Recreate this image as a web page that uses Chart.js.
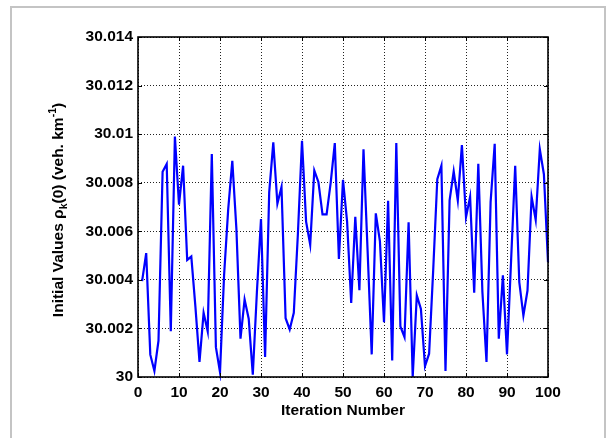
<!DOCTYPE html>
<html><head><meta charset="utf-8">
<script src="https://cdn.jsdelivr.net/npm/chart.js@4/dist/chart.umd.min.js"></script>
<style>
html,body{margin:0;padding:0;background:#fff;}
#wrap{position:relative;width:609px;height:438px;overflow:hidden;background:#fff;}
#frame{position:absolute;left:10px;top:6px;width:596px;height:460px;border:2px solid #c4c4c4;box-sizing:border-box;}
canvas{position:absolute;left:0;top:0;}
</style></head><body>
<div id="wrap"><div id="frame"></div><canvas id="c" width="609" height="438"></canvas></div>
<script>
const iterations = [1,2,3,4,5,6,7,8,9,10,11,12,13,14,15,16,17,18,19,20,21,22,23,24,25,26,27,28,29,30,31,32,33,34,35,36,37,38,39,40,41,42,43,44,45,46,47,48,49,50,51,52,53,54,55,56,57,58,59,60,61,62,63,64,65,66,67,68,69,70,71,72,73,74,75,76,77,78,79,80,81,82,83,84,85,86,87,88,89,90,91,92,93,94,95,96,97,98,99,100];
const initialValues = [
30.00395,30.00510,30.00092,30.00025,30.00150,30.00845,30.00877,30.00188,30.00990,30.00710,
30.00870,30.00482,30.00496,30.00290,30.00062,30.00264,30.00188,30.00918,30.00123,30.00020,
30.00420,30.00690,30.00890,30.00610,30.00158,30.00319,30.00240,30.00010,30.00350,30.00650,
30.00082,30.00760,30.00966,30.00714,30.00782,30.00242,30.00196,30.00264,30.00590,30.00973,
30.00640,30.00545,30.00850,30.00803,30.00670,30.00670,30.00800,30.00963,30.00486,30.00812,
30.00640,30.00305,30.00660,30.00357,30.00938,30.00520,30.00093,30.00674,30.00560,30.00226,
30.00726,30.00068,30.00963,30.00208,30.00164,30.00637,30.00000,30.00336,30.00280,30.00045,
30.00096,30.00440,30.00815,30.00870,30.00025,30.00727,30.00847,30.00727,30.00955,30.00658,
30.00742,30.00347,30.00878,30.00350,30.00062,30.00720,30.00960,30.00158,30.00419,30.00093,
30.00480,30.00870,30.00390,30.00253,30.00356,30.00742,30.00647,30.00938,30.00835,30.00473
];
const xTickValues = [0,10,20,30,40,50,60,70,80,90,100];
const xTickLabels = ['0','10','20','30','40','50','60','70','80','90','100'];
const yTickValues = [30,30.002,30.004,30.006,30.008,30.01,30.012,30.014];
const yTickLabels = ['30','30.002','30.004','30.006','30.008','30.01','30.012','30.014'];
const xTitle = 'Iteration Number';
const yTitleParts = [
  {t:'Initial Values ', k:'n'},
  {t:'\u03c1', k:'n'},
  {t:'k', k:'sub'},
  {t:'(0) (veh. km', k:'n'},
  {t:'-1', k:'sup'},
  {t:')', k:'n'}
];

const FAM = '"Liberation Sans", Arial, Helvetica, sans-serif';
const FS = 15.5;

const boxPlugin = {
  id:'boxPlugin',
  afterDatasetsDraw(chart){
    const {ctx, chartArea:a, scales} = chart;
    ctx.save();
    ctx.strokeStyle = '#000';
    ctx.lineWidth = 1;
    xTickValues.forEach(v=>{
      const p = Math.round(scales.x.getPixelForValue(v))+0.5;
      ctx.beginPath();
      ctx.moveTo(p,a.bottom); ctx.lineTo(p,a.bottom-4);
      ctx.moveTo(p,a.top); ctx.lineTo(p,a.top+4);
      ctx.stroke();
    });
    yTickValues.forEach(v=>{
      const p = Math.round(scales.y.getPixelForValue(v))+0.5;
      ctx.beginPath();
      ctx.moveTo(a.left,p); ctx.lineTo(a.left+4,p);
      ctx.moveTo(a.right,p); ctx.lineTo(a.right-4,p);
      ctx.stroke();
    });
    ctx.lineWidth = 1.6;
    ctx.strokeRect(a.left, a.top, a.right-a.left, a.bottom-a.top);
    ctx.restore();
  },
  afterDraw(chart){
    const {ctx, chartArea:a} = chart;
    const fN = 'bold '+FS+'px '+FAM, fS = 'bold 10.5px '+FAM;
    ctx.save();
    let total = 0;
    yTitleParts.forEach(p=>{ ctx.font = p.k==='n'?fN:fS; p.w = ctx.measureText(p.t).width; total += p.w; });
    const cx = 59, cy = (a.top+a.bottom)/2 + 3;
    ctx.translate(cx, cy);
    ctx.rotate(-Math.PI/2);
    ctx.fillStyle = '#000';
    ctx.textBaseline = 'middle';
    ctx.textAlign = 'left';
    let x = -total/2;
    yTitleParts.forEach(p=>{
      ctx.font = p.k==='n'?fN:fS;
      const dy = p.k==='sub'?5:(p.k==='sup'?-6:0);
      ctx.fillText(p.t, x, dy);
      x += p.w;
    });
    ctx.restore();
  }
};

new Chart(document.getElementById('c'), {
  type:'line',
  data:{
    datasets:[{
      data: iterations.map((it,i)=>({x:it, y:initialValues[i]})),
      borderColor:'#0000ff',
      borderWidth:2.2,
      pointRadius:0,
      fill:false,
      tension:0,
      clip:4
    }]
  },
  options:{
    responsive:false,
    animation:false,
    devicePixelRatio:1,
    layout:{padding:{left:0,top:37,right:61,bottom:0}},
    plugins:{legend:{display:false},tooltip:{enabled:false},title:{display:false}},
    scales:{
      x:{
        type:'linear', min:0, max:100,
        afterBuildTicks(s){ s.ticks = xTickValues.map(v=>({value:v})); },
        afterFit(s){ s.height = 61; },
        ticks:{color:'#000', padding:6, maxRotation:0, autoSkip:false,
          font:{family:FAM, size:FS, weight:'bold'},
          callback:(v,i)=>xTickLabels[i]},
        grid:{color:'#222', lineWidth:1, drawTicks:false},
        border:{display:false, dash:[1,2]},
        title:{display:true, text:xTitle, color:'#000',
          font:{family:FAM, size:FS, weight:'bold'}, padding:{top:0,bottom:18}}
      },
      y:{
        type:'linear', min:30, max:30.014,
        afterBuildTicks(s){ s.ticks = yTickValues.map(v=>({value:v})); },
        afterFit(s){ s.width = 138; },
        ticks:{color:'#000', padding:5, autoSkip:false,
          font:{family:FAM, size:FS, weight:'bold'},
          callback:(v,i)=>yTickLabels[i]},
        grid:{color:'#222', lineWidth:1, drawTicks:false},
        border:{display:false, dash:[1,2]}
      }
    }
  },
  plugins:[boxPlugin]
});
</script>
</body></html>
